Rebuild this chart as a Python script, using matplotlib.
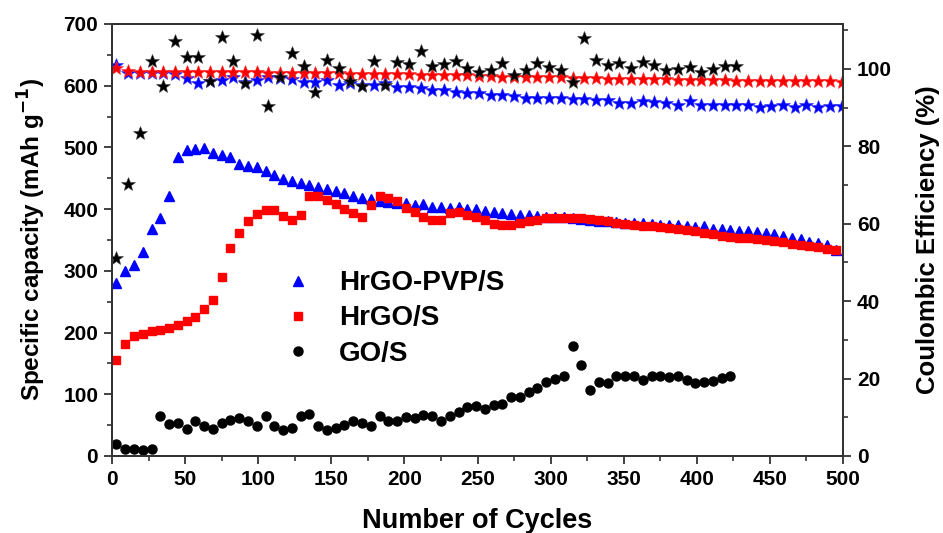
import numpy as np
import matplotlib
matplotlib.use("Agg")
import matplotlib.pyplot as plt
from matplotlib.ticker import MultipleLocator

plt.rcParams['font.family'] = ['Liberation Sans', 'DejaVu Sans']
plt.rcParams['font.weight'] = 'bold'

# capacity data (cycles every 6)
cyc_cap = np.arange(3, 500, 6)
pvp_cap = [281, 300, 310, 331, 367, 386, 422, 485, 495, 497, 499, 491, 488, 484, 473,
           470, 468, 461, 455, 449, 445, 443, 439, 436, 432, 429, 426, 422, 418, 416,
           413, 412, 410, 410, 407, 408, 404, 403, 402, 404, 401, 400, 397, 395, 394,
           392, 390, 391, 389, 388, 388, 387, 385, 384, 382, 381, 380, 379, 378, 377,
           377, 376, 375, 374, 374, 372, 371, 372, 368, 367, 366, 365, 364, 363, 362,
           360, 357, 354, 351, 347, 345, 342, 334]
hrgo_cap = [156, 182, 195, 198, 202, 204, 207, 212, 218, 225, 238, 253, 290, 337, 362,
            380, 392, 399, 398, 389, 383, 391, 422, 422, 415, 408, 401, 393, 387, 407,
            421, 418, 413, 402, 396, 388, 383, 382, 393, 396, 391, 388, 383, 376, 374,
            375, 378, 381, 382, 385, 386, 386, 385, 385, 384, 383, 381, 378, 376, 375,
            373, 372, 371, 369, 368, 366, 364, 362, 359, 357, 355, 354, 353, 352, 350,
            348, 346, 344, 342, 340, 338, 336, 334]
go_cyc = np.arange(3, 424, 6)
go_cap = [19, 12, 11, 10, 12, 65, 52, 54, 43, 57, 48, 44, 54, 58, 61,
          57, 48, 65, 49, 42, 45, 65, 68, 48, 42, 45, 50, 56, 54, 48,
          65, 56, 57, 63, 61, 67, 64, 57, 65, 72, 79, 81, 76, 83, 85,
          95, 95, 103, 110, 120, 125, 129, 179, 148, 107, 120, 119, 130, 130, 130,
          123, 129, 130, 128, 129, 123, 119, 120, 122, 126, 129]

# coulombic efficiency (cycles every 8)
cyc_ce = np.arange(3, 500, 8)
pvp_ce = [101.0, 99.0, 98.9, 99.0, 98.9, 98.7, 97.6, 96.3, 96.9, 97.2, 98.0, 96.7, 97.2,
          97.9, 97.6, 97.3, 96.7, 96.7, 97.2, 95.9, 96.3, 95.9, 95.9, 96.3, 95.4, 95.4,
          95.0, 94.6, 94.6, 94.1, 93.7, 93.7, 93.3, 93.2, 93.0, 92.6, 92.5, 92.4, 92.4,
          92.2, 92.1, 92.0, 92.0, 91.3, 91.1, 91.6, 91.5, 91.1, 90.8, 91.6, 90.8, 90.7,
          90.6, 90.7, 90.8, 90.2, 90.4, 90.6, 90.2, 90.7, 90.1, 90.4, 90.3]
hrgo_ce = [100.2, 99.4, 99.3, 99.3, 99.3, 99.3, 99.2, 99.3, 99.2, 99.2, 99.1, 99.1, 99.1,
           99.0, 99.0, 99.0, 98.9, 98.9, 98.9, 98.9, 98.8, 98.8, 98.8, 98.7, 98.6, 98.6,
           98.5, 98.4, 98.4, 98.3, 98.3, 98.2, 98.1, 98.0, 98.0, 97.9, 97.9, 97.8, 97.8,
           97.7, 97.6, 97.6, 97.5, 97.5, 97.4, 97.4, 97.3, 97.3, 97.2, 97.2, 97.2, 97.1,
           97.1, 97.0, 97.0, 97.0, 96.9, 96.9, 96.9, 96.8, 96.8, 96.8, 96.7]
go_ce_cyc = np.arange(3, 428, 8)
go_ce = [51.1, 70.3, 83.4, 102.1, 95.6, 107.3, 103.0, 103.0, 97.0, 108.2, 102.1, 96.3,
         108.8, 90.5, 97.9, 104.1, 100.8, 94.1, 102.3, 100.2, 97.0, 95.6, 102.1, 95.9,
         101.9, 101.2, 104.7, 100.8, 101.2, 102.1, 100.2, 99.3, 99.6, 101.6, 98.4, 99.6,
         101.5, 100.4, 99.6, 96.7, 107.9, 102.3, 100.9, 101.5, 100.2, 101.9, 100.9, 99.7,
         99.9, 100.6, 99.3, 99.9, 100.8, 100.8]

fig = plt.figure(figsize=(9.43, 5.33), dpi=100)
ax = fig.add_axes([0.1188, 0.1445, 0.7752, 0.8105])
ax2 = ax.twinx()

ax.plot(cyc_cap, pvp_cap, '^', color='#0000ff', ms=7, mec='#0000ff', label='HrGO-PVP/S')
ax.plot(cyc_cap, hrgo_cap, 's', color='#ff0000', ms=6, mec='#ff0000', label='HrGO/S')
ax.plot(go_cyc, go_cap, 'o', color='black', ms=6.5, label='GO/S')

ax2.plot(cyc_ce, pvp_ce, '*', color='#0000ff', ms=10.5, mec='#3030ff', mew=0.4)
ax2.plot(cyc_ce, hrgo_ce, '*', color='#ff0000', ms=10.5, mec='#ff3030', mew=0.4)
ax2.plot(go_ce_cyc, go_ce, '*', color='black', ms=10.5, mec='#444444', mew=0.4)

ax.set_xlim(0, 500)
ax.set_ylim(0, 700)
ax2.set_ylim(0, 111.6)

ax.xaxis.set_major_locator(MultipleLocator(50))
ax.xaxis.set_minor_locator(MultipleLocator(25))
ax.yaxis.set_major_locator(MultipleLocator(100))
ax.yaxis.set_minor_locator(MultipleLocator(50))
ax2.yaxis.set_major_locator(MultipleLocator(20))
ax2.yaxis.set_minor_locator(MultipleLocator(10))

for a in (ax, ax2):
    for s in a.spines.values():
        s.set_linewidth(1.4)
        s.set_color('#333333')
    a.tick_params(which='major', length=6, width=1.3, direction='out', labelsize=15,
                  color='#333333', pad=4)
    a.tick_params(which='minor', length=3.5, width=1.2, direction='out', color='#333333')
ax.tick_params(axis='x', which='both', top=False)

ax.set_xlabel('Number of Cycles', fontsize=19.5, fontweight='bold', labelpad=14)
ax.set_ylabel('Specific capacity (mAh g$^{\\mathbf{-1}}$)', fontsize=17.5,
              fontweight='bold', labelpad=11)
ax2.set_ylabel('Coulombic Efficiency (%)', fontsize=18.5, fontweight='bold', labelpad=17)

ax.legend(loc='upper left', bbox_to_anchor=(0.216, 0.462), frameon=False, borderpad=0,
          handlelength=1.0, handletextpad=1.0, labelspacing=0.33,
          prop={'weight': 'bold', 'size': 20})

fig.savefig('out.png', dpi=100)
